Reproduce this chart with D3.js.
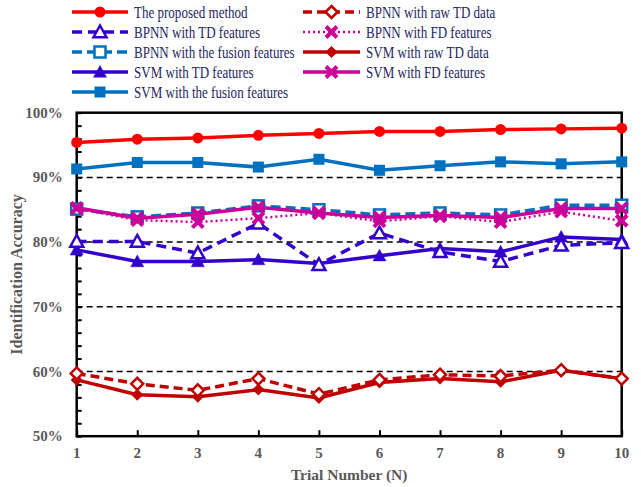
<!DOCTYPE html>
<html>
<head>
<meta charset="utf-8">
<script src="https://cdn.jsdelivr.net/npm/d3@7/dist/d3.min.js"></script>
<style>
body{margin:0;background:#fff;}
svg{display:block;}
</style>
</head>
<body>
<svg id="chart" width="641" height="487"></svg>
<script>
const trials = [1,2,3,4,5,6,7,8,9,10];
const yTicks = [50,60,70,80,90,100];
const gridValues = [60,70,80,90];

const proposed      = [95.4,95.9,96.1,96.5,96.8,97.1,97.1,97.4,97.5,97.6];
const bpnnRawTD     = [59.7,58.1,57.1,58.9,56.5,58.7,59.5,59.3,60.2,58.9];
const bpnnTD        = [80.1,80.1,78.3,82.9,76.5,81.4,78.5,77.0,79.5,79.9];
const bpnnFD        = [85.2,83.4,83.1,83.7,84.5,83.2,84.0,83.1,84.7,83.3];
const bpnnFusion    = [85.1,83.9,84.5,85.6,85.0,84.2,84.5,84.2,85.7,85.7];
const svmRawTD      = [58.7,56.4,56.1,57.2,55.9,58.3,58.9,58.4,60.2,58.9];
const svmTD         = [78.8,77.0,77.0,77.3,76.7,77.9,79.0,78.5,80.8,80.4];
const svmFD         = [85.3,83.7,84.3,85.4,84.5,83.8,84.1,83.8,85.2,85.2];
const svmFusion     = [91.3,92.3,92.3,91.6,92.8,91.1,91.8,92.4,92.1,92.4];

const series = [
  {name:"SVM with raw TD data", data:svmRawTD, color:"#C00000", dash:null, marker:"diamondSmall", fill:true, row:2, col:1},
  {name:"BPNN with raw TD data", data:bpnnRawTD, color:"#C00000", dash:"9,5", marker:"diamond", fill:false, row:0, col:1},
  {name:"SVM with TD features", data:svmTD, color:"#3300CC", dash:null, marker:"triangle", fill:true, row:3, col:0},
  {name:"BPNN with TD features", data:bpnnTD, color:"#3300CC", dash:"10,6", marker:"triangle", fill:false, row:1, col:0},
  {name:"BPNN with the fusion features", data:bpnnFusion, color:"#0070C0", dash:"10,5", marker:"square", fill:false, row:2, col:0},
  {name:"BPNN with FD features", data:bpnnFD, color:"#CC0099", dash:"2,3", marker:"cross", fill:true, row:1, col:1},
  {name:"SVM with FD features", data:svmFD, color:"#CC0099", dash:null, marker:"cross", fill:true, row:3, col:1},
  {name:"SVM with the fusion features", data:svmFusion, color:"#0070C0", dash:null, marker:"square", fill:true, row:4, col:0},
  {name:"The proposed method", data:proposed, color:"#FF0000", dash:null, marker:"circle", fill:true, row:0, col:0}
];

const svg = d3.select("#chart");
const pL = 76.7, pR = 621.7, pT = 112.7, pB = 436.2;
const x = d3.scaleLinear().domain([1,10]).range([pL,pR]);
const y = d3.scaleLinear().domain([50,100]).range([pB,pT]);

const serif = "'Liberation Serif','Times New Roman',serif";

// gridlines
svg.append("g").selectAll("line").data(gridValues).join("line")
  .attr("x1",pL).attr("x2",pR)
  .attr("y1",d=>y(d)).attr("y2",d=>y(d))
  .attr("stroke","#000").attr("stroke-width",1.5).attr("stroke-dasharray","6,4");

// axes
const yAxis = d3.axisLeft(y).tickValues(d3.range(50,101,2)).tickSize(-5).tickFormat("");
const gy = svg.append("g").attr("transform",`translate(${pL},0)`).call(yAxis);
const xAxis = d3.axisBottom(x).tickValues(trials).tickSize(-6).tickFormat("");
const gx = svg.append("g").attr("transform",`translate(0,${pB})`).call(xAxis);
[gx,gy].forEach(g=>{
  g.select(".domain").remove();
  g.selectAll(".tick line").attr("stroke","#000").attr("stroke-width",2);
});
// frame
svg.append("rect").attr("x",pL).attr("y",pT).attr("width",pR-pL).attr("height",pB-pT)
  .attr("fill","none").attr("stroke","#000").attr("stroke-width",2.5);

// tick labels
svg.append("g").selectAll("text").data(yTicks).join("text")
  .attr("x",pL-14).attr("y",d=>y(d)+5)
  .attr("text-anchor","end").attr("font-family",serif).attr("font-weight","bold")
  .attr("font-size",15).attr("fill","#595959").text(d=>d+"%");
svg.append("g").selectAll("text").data(trials).join("text")
  .attr("x",d=>x(d)).attr("y",pB+22)
  .attr("text-anchor","middle").attr("font-family",serif).attr("font-weight","bold")
  .attr("font-size",15).attr("fill","#595959").text(d=>d);

svg.append("text").attr("x",(pL+pR)/2).attr("y",480)
  .attr("text-anchor","middle").attr("font-family",serif).attr("font-weight","bold")
  .attr("font-size",15.5).attr("fill","#595959").text("Trial Number (N)");
svg.append("text").attr("transform",`translate(22,${(pT+pB)/2}) rotate(-90)`)
  .attr("text-anchor","middle").attr("font-family",serif).attr("font-weight","bold")
  .attr("font-size",16).attr("fill","#595959").text("Identification Accuracy");

function drawMarker(g, type, cx, cy, color, fill){
  const f = fill ? color : "#fff";
  if(type==="circle"){
    g.append("circle").attr("cx",cx).attr("cy",cy).attr("r",5.5).attr("fill",color);
  } else if(type==="square"){
    g.append("rect").attr("x",cx-5.5).attr("y",cy-5.5).attr("width",11).attr("height",11)
      .attr("fill",f).attr("stroke",color).attr("stroke-width",fill?0:2.5);
  } else if(type==="triangle"){
    const s=6.5;
    g.append("path").attr("d",`M${cx},${cy-s}L${cx+s},${cy+s*0.8}L${cx-s},${cy+s*0.8}Z`)
      .attr("fill",f).attr("stroke",color).attr("stroke-width",fill?0.5:2.5);
  } else if(type==="diamond"){
    const s=6;
    g.append("path").attr("d",`M${cx},${cy-s}L${cx+s},${cy}L${cx},${cy+s}L${cx-s},${cy}Z`)
      .attr("fill",f).attr("stroke",color).attr("stroke-width",2.5);
  } else if(type==="diamondSmall"){
    const s=6;
    g.append("path").attr("d",`M${cx},${cy-s}L${cx+s},${cy}L${cx},${cy+s}L${cx-s},${cy}Z`)
      .attr("fill",color);
  } else if(type==="cross"){
    const s=5.5;
    g.append("path").attr("d",`M${cx-s},${cy-s}L${cx+s},${cy+s}M${cx-s},${cy+s}L${cx+s},${cy-s}`)
      .attr("stroke",color).attr("stroke-width",4).attr("fill","none");
  }
}

const line = d3.line().x((d,i)=>x(trials[i])).y(d=>y(d));
series.forEach(s=>{
  const g = svg.append("g");
  g.append("path").datum(s.data).attr("d",line).attr("fill","none")
    .attr("stroke",s.color).attr("stroke-width",s.dash==="2,3"?2.5:3.5)
    .attr("stroke-dasharray",s.dash);
  s.data.forEach((v,i)=>drawMarker(g,s.marker,x(trials[i]),y(v),s.color,s.fill));
});

// legend
const legCols = [{x0:72,x1:128,tx:134},{x0:303,x1:360,tx:366}];
const legend = svg.append("g");
series.forEach(s=>{
  const c = legCols[s.col];
  const ly = 12 + s.row*20;
  const g = legend.append("g");
  g.append("line").attr("x1",c.x0).attr("x2",c.x1).attr("y1",ly).attr("y2",ly)
    .attr("stroke",s.color).attr("stroke-width",s.dash==="2,3"?2.5:3.5).attr("stroke-dasharray",s.dash);
  drawMarker(g,s.marker,(c.x0+c.x1)/2,ly,s.color,s.fill);
  g.append("text").attr("transform",`translate(${c.tx},${ly+5.5}) scale(0.79,1)`)
    .attr("font-family",serif)
    .attr("font-size",16.5).attr("fill","#1F1F5F").text(s.name);
});
</script>
</body>
</html>
